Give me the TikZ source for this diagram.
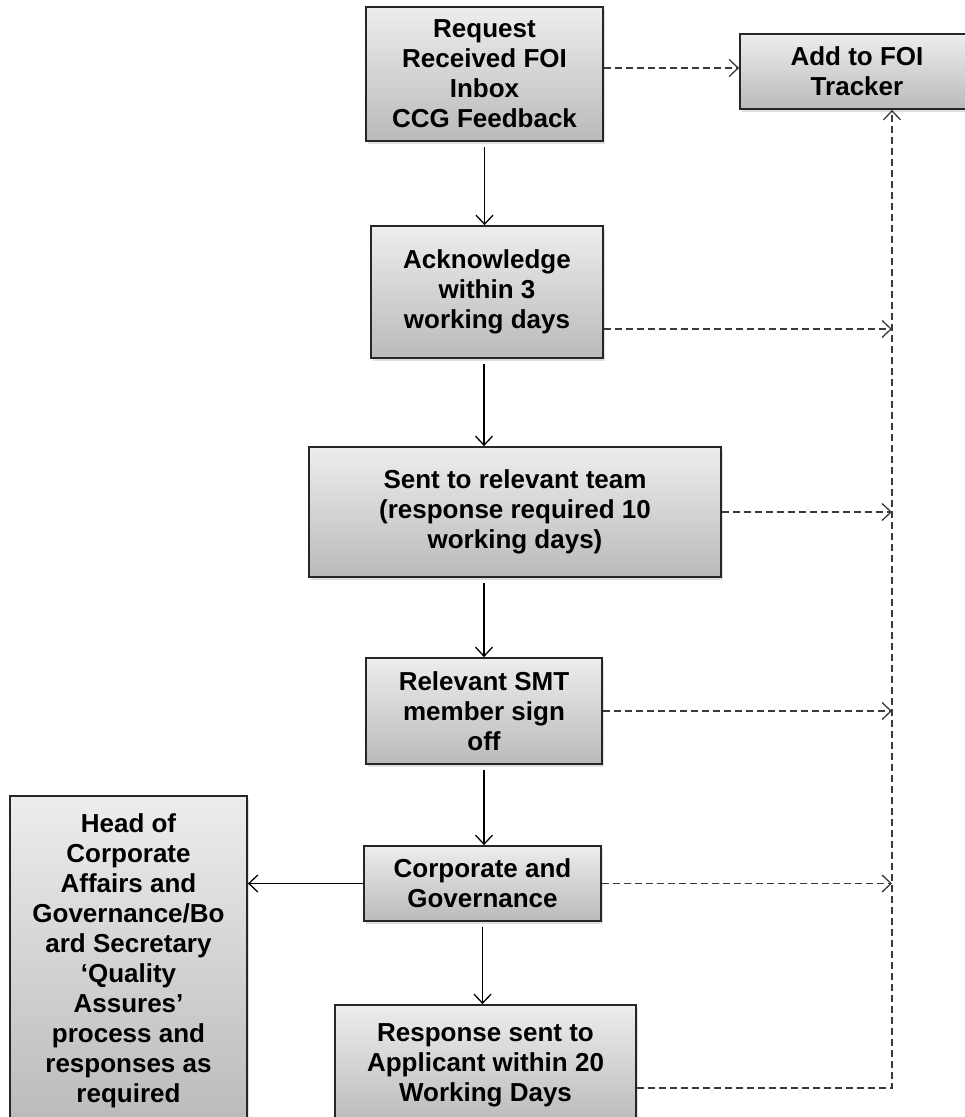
\documentclass[tikz,border=0pt]{standalone}
\usepackage{fontspec}
\setmainfont{Liberation Sans}
\usetikzlibrary{positioning,arrows.meta,shadows}
\definecolor{boxtop}{HTML}{EDEDED}
\definecolor{boxbot}{HTML}{BABABA}
\definecolor{edge}{HTML}{262626}
\definecolor{dashink}{HTML}{3A3A3A}

\begin{document}
\begin{tikzpicture}[x=1pt,y=-1pt,
    box/.style={draw=edge,line width=1.8pt,top color=boxtop,bottom color=boxbot,
      align=center,inner sep=0pt,font=\bfseries\fontsize{26}{30}\selectfont,
      drop shadow={shadow xshift=2pt,shadow yshift=-3pt,opacity=0.25}},
    flow/.style={draw=black,line width=1.3pt,-{Straight Barb[length=9pt,width=17pt]}},
    feed/.style={draw=dashink,line width=1.3pt,dash pattern=on 7pt off 4pt,
      -{Straight Barb[length=9pt,width=17pt]}}]
        \clip (0,0) rectangle (965,1117);
        \fill[white] (0,0) rectangle (965,1117);
        % main column
        \node[box,minimum width=237pt,minimum height=134pt] (req) at (484.5,74) {Request\\Received FOI\\Inbox\\CCG Feedback};
        \node[box,minimum width=234pt,minimum height=75pt] (trk) at (857,71.5) {Add to FOI\\Tracker};
        \node[box,minimum width=232pt,minimum height=132pt] (ack) at (487,292) {Acknowledge\\within 3\\working days};
        \node[box,minimum width=412pt,minimum height=130pt] (sent) at (515,512) {Sent to relevant team\\(response required 10\\working days)};
        \node[box,minimum width=236pt,minimum height=106pt] (smt) at (484,711) {Relevant SMT\\member sign\\off};
        \node[box,minimum width=237pt,minimum height=75pt] (cg) at (482.5,883.5) {Corporate and\\Governance};
        \node[box,minimum width=237pt,minimum height=330pt] (head) at (128.5,961) {Head of\\Corporate\\Affairs and\\Governance/Bo\\ard Secretary\\‘Quality\\Assures’\\process and\\responses as\\required};
        \node[box,minimum width=301pt,minimum height=120pt] (resp) at (485.5,1065) {Response sent to\\Applicant within 20\\Working Days};
        % solid steps
        \draw[flow,shorten <=5pt] (req.south) -- (req.south |- ack.north);
        \draw[flow,shorten <=5pt] (smt.north |- ack.south) -- (smt.north |- sent.north);
        \draw[flow,shorten <=5pt] (smt.north |- sent.south) -- (smt.north);
        \draw[flow,shorten <=5pt] (smt.south) -- (smt.south |- cg.north);
        \draw[flow] (cg.west) -- (cg.west -| head.east);
        \draw[flow,shorten <=5pt] (cg.south) -- (cg.south |- resp.north);
        % tracker feed
        \coordinate (corner) at (892,1088);
        \coordinate (ackout) at ([yshift=-37pt]ack.east);
        \draw[feed] ([yshift=6pt]req.east) -- ([yshift=6pt]req.east -| trk.west);
        \draw[feed] (ackout) -- (ackout -| corner);
        \draw[feed] (sent.east) -- (sent.east -| corner);
        \draw[feed] (smt.east) -- (smt.east -| corner);
        \draw[feed] (cg.east) -- (cg.east -| corner);
        \draw[feed] (corner -| resp.east) -- (corner) -- (corner |- trk.south);
      \end{tikzpicture}
\end{document}
